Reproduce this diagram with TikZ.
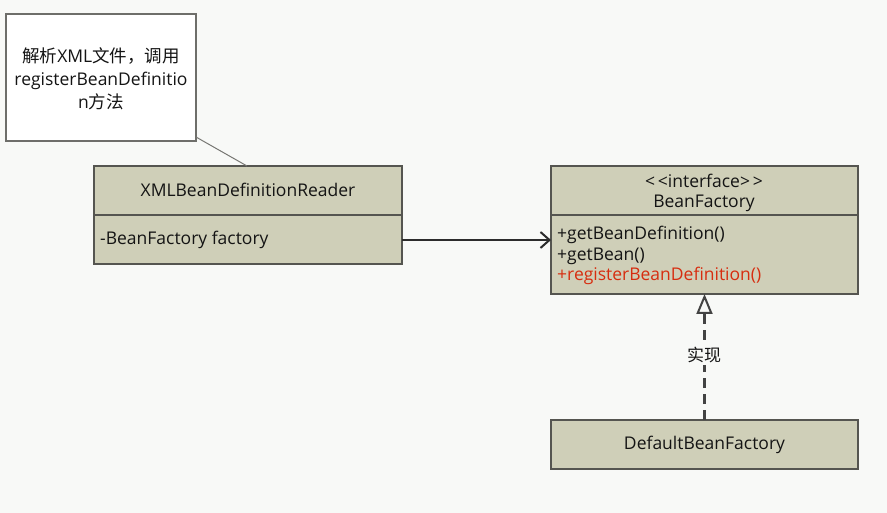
\documentclass[tikz,border=0pt]{standalone}
\usepackage{fontspec}
\setmainfont{Open Sans}
\newfontfamily\cjk{Noto Sans CJK SC}
\usetikzlibrary{arrows.meta}
\definecolor{bgcol}{RGB}{248,249,247}
\definecolor{classfill}{RGB}{207,207,184}
\definecolor{classline}{RGB}{85,85,80}
\definecolor{inkcol}{RGB}{20,20,20}
\definecolor{redtext}{RGB}{215,45,15}
\tikzset{
  classbox/.style={draw=classline, line width=1.4pt, fill=classfill, inner sep=0pt, outer sep=0pt, anchor=north west},
  notebox/.style={draw=classline!85, line width=1.3pt, fill=white, inner sep=0pt, outer sep=0pt, anchor=north west},
  label text/.style={text=inkcol, inner sep=0pt},
  assoc/.style={draw=inkcol!90, line width=2pt, -{Straight Barb[length=9pt, width=16pt, line width=2pt]}},
  realize/.style={draw=inkcol!80, line width=2.2pt, dash pattern=on 10pt off 6pt,
    -{Triangle[open, length=20pt, width=16pt, line width=2pt, fill=bgcol]}},
}
\begin{document}
\begin{tikzpicture}[x=1pt, y=-1pt, font=\fontsize{17.5}{21}\selectfont]
  \fill[bgcol] (0,0) rectangle (887,513);
  \useasboundingbox (0,0) rectangle (887,513);

  % comment note
  \node[notebox, minimum width=190pt, minimum height=127pt] (note) at (6,14) {};
  \node[label text, align=center, font=\fontsize{17.5}{23}\selectfont] (notetext) at (101,79)
    {{\cjk 解析}XML{\cjk 文件，调用}\\registerBeanDefinitio\\n{\cjk 方法}};

  % XMLBeanDefinitionReader class
  \node[classbox, minimum width=308pt, minimum height=98pt] (reader) at (94,166) {};
  \draw[classline, line width=1.4pt] (94,215) -- (402,215);
  \node[label text] (readertitle) at (248,190) {XMLBeanDefinitionReader};
  \node[label text, anchor=west] (readerattr) at (100,240) {-BeanFactory factory};

  % BeanFactory interface
  \node[classbox, minimum width=307pt, minimum height=128pt] (factory) at (551,166) {};
  \draw[classline, line width=1.4pt] (551,215) -- (858,215);
  \node[label text, align=center, font=\fontsize{17.5}{20.5}\selectfont] (factorytitle) at (704,193)
    {<\,<interface>\,>\\BeanFactory};
  \node[label text, align=left, anchor=north west, font=\fontsize{17.5}{20.5}\selectfont] (factoryops) at (557,226)
    {+getBeanDefinition()\\+getBean()\\\textcolor{redtext}{+registerBeanDefinition()}};

  % DefaultBeanFactory class
  \node[classbox, minimum width=307pt, minimum height=49pt] (default) at (551,420) {};
  \node[label text] (defaulttitle) at (default.center) {DefaultBeanFactory};

  % connectors
  \draw[classline!80, line width=1pt] (note.south east) ++(0,-4) -- (247,166);
  \draw[assoc] (reader.east |- readerattr) -- (factory.west |- readerattr);
  \draw[realize] (default.north) -- (factory.south);
  \node[label text, fill=bgcol, inner sep=2pt, font=\cjk\fontsize{17}{20}\selectfont] (realizelabel) at (704,355) {实现};
\end{tikzpicture}
\end{document}
